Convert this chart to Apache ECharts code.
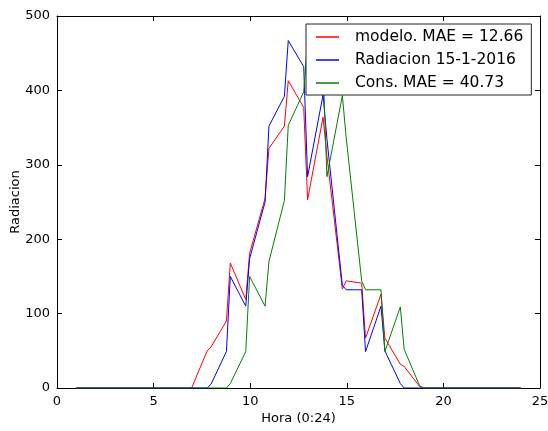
<!DOCTYPE html>
<html>
<head>
<meta charset="utf-8">
<script src="https://cdn.jsdelivr.net/npm/echarts@6/dist/echarts.min.js"></script>
<style>
html,body{margin:0;padding:0;background:#fff;}
#c{width:548px;height:431px;}
</style>
</head>
<body>
<div id="c"></div>
<script>
const hours = [1, 6.97, 7.77, 7.97, 8.77, 8.97, 9.77, 9.97, 10.77, 10.97, 11.77, 11.97, 12.77, 12.97, 13.77, 13.97, 14.77, 14.97, 15.77, 15.97, 16.77, 16.97, 17.77, 17.97, 18.77, 18.97, 24];
const modelo = [0, 0, 50, 55, 90, 168, 119, 181, 255, 322, 352, 413, 377, 253, 364, 312, 133, 144, 141, 67, 126, 67, 32, 29, 2, 0, 0];
const radiacion = [0, 0, 0, 5, 49, 150, 110, 174, 250, 352, 392, 467, 432, 284, 394, 335, 138, 132, 132, 49, 110, 50, 6, 0, 0, 0, 0];
const cons = [0, 0, 0, 0, 0, 6, 49, 150, 110, 170, 252, 353, 398, 467, 432, 284, 393, 336, 144, 132, 132, 49, 109, 52, 3, 0, 0];
const seriesNames = ['modelo. MAE = 12.66', 'Radiacion 15-1-2016', 'Cons. MAE = 40.73'];
const xTicks = {min: 0, max: 25, interval: 5};
const yTicks = {min: 0, max: 500, interval: 100};

const FONT = 'DejaVu Sans';
function pairs(ys){ return hours.map((h,i)=>[h, ys[i]]); }
const lineAxis = {lineStyle:{color:'#000', width:1}, onZero:false};
const tick = {inside:true, length:5, lineStyle:{color:'#000', width:1}};
const label = {color:'#000', fontSize:13, fontFamily:FONT, margin:7};

const chart = echarts.init(document.getElementById('c'), null, {renderer:'canvas'});
chart.setOption({
  animation:false,
  backgroundColor:'#fff',
  grid:{left:57, right:8, top:16, bottom:43, containLabel:false, outerBoundsMode:'none'},
  xAxis:[
    {type:'value', position:'bottom', min:xTicks.min, max:xTicks.max, interval:xTicks.interval,
     axisLine:lineAxis, axisTick:tick, axisLabel:label, splitLine:{show:false},
     name:'Hora (0:24)', nameLocation:'middle', nameGap:24, nameMoveOverlap:false,
     nameTextStyle:{color:'#000', fontSize:13, fontFamily:FONT}},
    {type:'value', position:'top', min:xTicks.min, max:xTicks.max, interval:xTicks.interval,
     axisLine:lineAxis, axisTick:tick, axisLabel:{show:false}, splitLine:{show:false}}
  ],
  yAxis:[
    {type:'value', position:'left', min:yTicks.min, max:yTicks.max, interval:yTicks.interval,
     axisLine:{show:true, lineStyle:{color:'#000', width:1}, onZero:false}, axisTick:{show:true, ...tick}, axisLabel:label, splitLine:{show:false},
     name:'Radiacion', nameLocation:'middle', nameGap:35, nameMoveOverlap:false,
     nameTextStyle:{color:'#000', fontSize:13, fontFamily:FONT}},
    {type:'value', position:'right', min:yTicks.min, max:yTicks.max, interval:yTicks.interval,
     axisLine:{show:true, lineStyle:{color:'#000', width:1}, onZero:false}, axisTick:{show:true, ...tick}, axisLabel:{show:false}, splitLine:{show:false}}
  ],
  legend:{
    orient:'vertical', left:306, top:24,
    backgroundColor:'#fff', borderColor:'#222', borderWidth:1, borderRadius:0,
    padding:[5,8,4,10], itemGap:7, itemWidth:23, itemHeight:1.5, icon:'rect',
    textStyle:{color:'#000', fontSize:15.5, fontFamily:FONT, lineHeight:15, padding:[0,0,0,11]},
    data:seriesNames
  },
  series:[
    {name:seriesNames[0], type:'line', data:pairs(modelo), symbol:'none', lineStyle:{color:'#ff0000', width:1}, itemStyle:{color:'#ff0000'}},
    {name:seriesNames[1], type:'line', data:pairs(radiacion), symbol:'none', lineStyle:{color:'#0000ff', width:1}, itemStyle:{color:'#0000ff'}},
    {name:seriesNames[2], type:'line', data:pairs(cons), symbol:'none', lineStyle:{color:'#008000', width:1}, itemStyle:{color:'#008000'}}
  ]
});
</script>
</body>
</html>
